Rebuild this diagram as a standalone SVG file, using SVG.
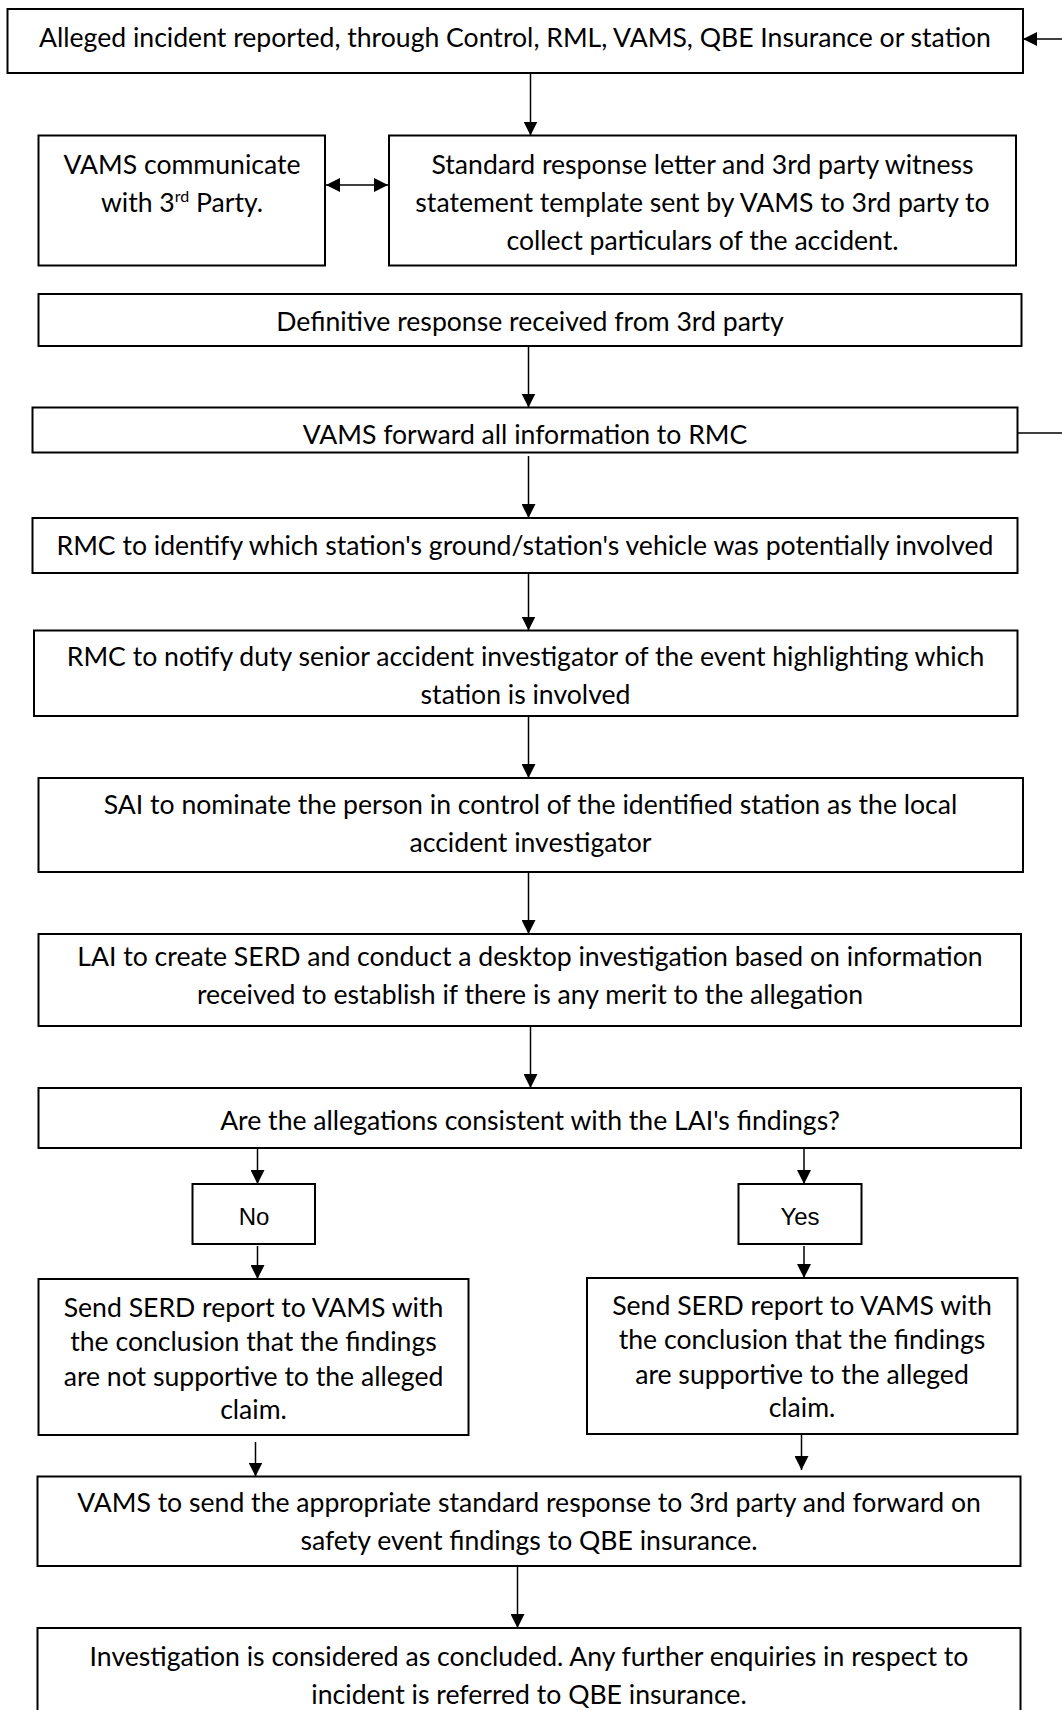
<svg xmlns="http://www.w3.org/2000/svg" width="1062" height="1710" viewBox="0 0 1062 1710">
<style>
.box{fill:#fff;stroke:#000;stroke-width:2}
.t{font-family:Lato,"Open Sans","Liberation Sans",sans-serif;font-size:26.6px;fill:#000;text-anchor:middle}
.a{font-family:"Liberation Sans",Arial,sans-serif;font-size:24px;fill:#000;text-anchor:middle}
.c{stroke:#000;stroke-width:1.5;fill:none}
</style>
<defs>
<marker id="ah" viewBox="0 0 14 14" refX="14" refY="7" markerWidth="14" markerHeight="14" markerUnits="userSpaceOnUse" orient="auto-start-reverse">
<path d="M0,0 L14,7 L0,14 z" fill="#000"/>
</marker>
</defs>
<rect x="0" y="0" width="1062" height="1710" fill="#fff"/>
<g id="connectors">
<line class="c" x1="530.5" y1="73" x2="530.5" y2="135.5" marker-end="url(#ah)"/>
<line class="c" x1="326" y1="185" x2="388" y2="185" marker-start="url(#ah)" marker-end="url(#ah)"/>
<line class="c" x1="1062" y1="39" x2="1023" y2="39" marker-end="url(#ah)"/>
<line class="c" x1="1018" y1="433" x2="1062" y2="433"/>
<line class="c" x1="528.5" y1="346" x2="528.5" y2="407.5" marker-end="url(#ah)"/>
<line class="c" x1="528.5" y1="456" x2="528.5" y2="518" marker-end="url(#ah)"/>
<line class="c" x1="528.5" y1="573" x2="528.5" y2="630.5" marker-end="url(#ah)"/>
<line class="c" x1="528.5" y1="716" x2="528.5" y2="778" marker-end="url(#ah)"/>
<line class="c" x1="528.5" y1="872" x2="528.5" y2="934" marker-end="url(#ah)"/>
<line class="c" x1="530.5" y1="1026" x2="530.5" y2="1088" marker-end="url(#ah)"/>
<line class="c" x1="257.5" y1="1148" x2="257.5" y2="1184" marker-end="url(#ah)"/>
<line class="c" x1="804" y1="1148" x2="804" y2="1184" marker-end="url(#ah)"/>
<line class="c" x1="257.5" y1="1246" x2="257.5" y2="1279" marker-end="url(#ah)"/>
<line class="c" x1="804" y1="1246" x2="804" y2="1278" marker-end="url(#ah)"/>
<line class="c" x1="255.5" y1="1442" x2="255.5" y2="1476.5" marker-end="url(#ah)"/>
<line class="c" x1="801.5" y1="1434" x2="801.5" y2="1470" marker-end="url(#ah)"/>
<line class="c" x1="517.5" y1="1566" x2="517.5" y2="1628" marker-end="url(#ah)"/>
</g>
<g id="n1"><rect class="box" x="7.5" y="9" width="1015.5" height="64"/>
<text class="t" x="515" y="47">Alleged incident reported, through Control, RML, VAMS, QBE Insurance or station</text></g>
<g id="n2"><rect class="box" x="38.5" y="135.5" width="286.5" height="130"/>
<text class="t" x="182" y="173.5">VAMS communicate</text>
<text class="t" x="182" y="211.5">with 3<tspan font-size="16" dy="-10">rd</tspan><tspan dy="10"> Party.</tspan></text></g>
<g id="n3"><rect class="box" x="389" y="135.5" width="627" height="130"/>
<text class="t" x="702.5" y="173.5">Standard response letter and 3rd party witness</text>
<text class="t" x="702.5" y="211.5">statement template sent by VAMS to 3rd party to</text>
<text class="t" x="702.5" y="249.5">collect particulars of the accident.</text></g>
<g id="n4"><rect class="box" x="38.5" y="294" width="983" height="52"/>
<text class="t" x="530" y="331">Definitive response received from 3rd party</text></g>
<g id="n5"><rect class="box" x="32.5" y="407.5" width="985" height="45"/>
<text class="t" x="525" y="443.5">VAMS forward all information to RMC</text></g>
<g id="n6"><rect class="box" x="32.5" y="518" width="985" height="55"/>
<text class="t" x="525" y="555">RMC to identify which station's ground/station's vehicle was potentially involved</text></g>
<g id="n7"><rect class="box" x="34" y="630.5" width="983.5" height="85.5"/>
<text class="t" x="525.5" y="666">RMC to notify duty senior accident investigator of the event highlighting which</text>
<text class="t" x="525.5" y="704">station is involved</text></g>
<g id="n8"><rect class="box" x="38.5" y="778" width="984.5" height="94"/>
<text class="t" x="530.5" y="814">SAI to nominate the person in control of the identified station as the local</text>
<text class="t" x="530.5" y="852">accident investigator</text></g>
<g id="n9"><rect class="box" x="38.5" y="934" width="982.5" height="92"/>
<text class="t" x="530" y="966">LAI to create SERD and conduct a desktop investigation based on information</text>
<text class="t" x="530" y="1004">received to establish if there is any merit to the allegation</text></g>
<g id="n10"><rect class="box" x="38.5" y="1088" width="982.5" height="60"/>
<text class="t" x="530" y="1130">Are the allegations consistent with the LAI's findings?</text></g>
<g id="n11"><rect class="box" x="192.5" y="1184" width="122.5" height="60"/>
<text class="a" x="254" y="1225">No</text></g>
<g id="n12"><rect class="box" x="738.5" y="1184" width="123" height="60"/>
<text class="a" x="800" y="1225">Yes</text></g>
<g id="n13"><rect class="box" x="38.5" y="1279" width="430" height="156"/>
<text class="t" x="253.5" y="1317">Send SERD report to VAMS with</text>
<text class="t" x="253.5" y="1351">the conclusion that the findings</text>
<text class="t" x="253.5" y="1386">are not supportive to the alleged</text>
<text class="t" x="253.5" y="1419">claim.</text></g>
<g id="n14"><rect class="box" x="587" y="1278" width="430.5" height="156"/>
<text class="t" x="802" y="1315">Send SERD report to VAMS with</text>
<text class="t" x="802" y="1349">the conclusion that the findings</text>
<text class="t" x="802" y="1384">are supportive to the alleged</text>
<text class="t" x="802" y="1417">claim.</text></g>
<g id="n15"><rect class="box" x="37.5" y="1476.5" width="983" height="89.5"/>
<text class="t" x="529" y="1512">VAMS to send the appropriate standard response to 3rd party and forward on</text>
<text class="t" x="529" y="1550">safety event findings to QBE insurance.</text></g>
<g id="n16"><rect class="box" x="37.5" y="1628" width="983" height="100"/>
<text class="t" x="529" y="1666">Investigation is considered as concluded. Any further enquiries in respect to</text>
<text class="t" x="529" y="1704">incident is referred to QBE insurance.</text></g>
</svg>
